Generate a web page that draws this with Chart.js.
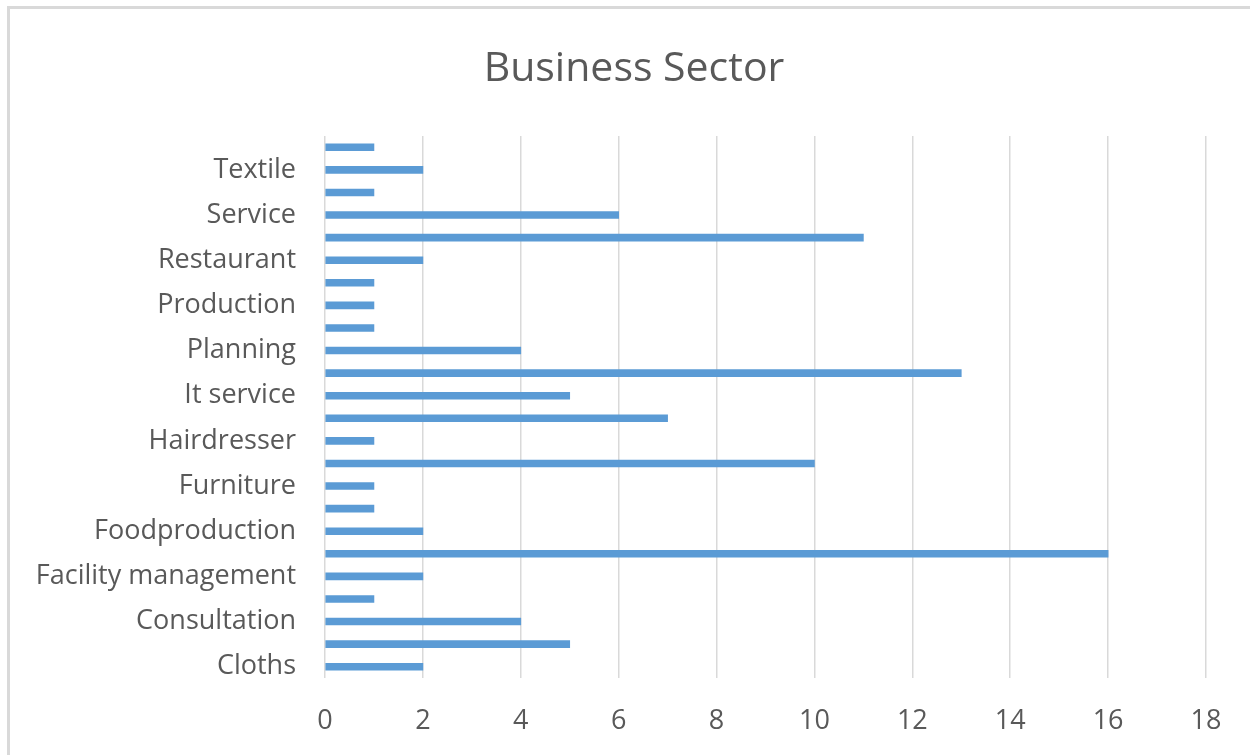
<!DOCTYPE html>
<html>
<head>
<meta charset="utf-8">
<script src="https://cdn.jsdelivr.net/npm/chart.js@4/dist/chart.umd.min.js"></script>
<style>
  html, body { margin: 0; padding: 0; background: #ffffff; overflow: hidden; }
  #frame { position: absolute; left: 7px; top: 6px; width: 1300px; height: 800px;
           border-top: 3px solid #d9d9d9; border-left: 3px solid #d9d9d9; }
  #wrap { position: absolute; left: 0; top: 0; width: 1250px; height: 755px; }
</style>
</head>
<body>
<div id="frame"></div>
<div id="wrap"><canvas id="c" width="1250" height="755"></canvas></div>
<script>
const chartTitle = "Business Sector";
const categories = [
  "Cloths", "Construction", "Consultation", "Education", "Facility management",
  "Food", "Foodproduction", "Forestry", "Furniture", "Graphic design",
  "Hairdresser", "Health care", "It service", "Marketing", "Planning",
  "Printing", "Production", "Real estate", "Restaurant", "Retail",
  "Service", "Software", "Textile", "Transport"
];
const counts = [2, 5, 4, 1, 2, 16, 2, 1, 1, 10, 1, 7, 5, 13, 4, 1, 1, 1, 2, 11, 6, 1, 2, 1];
const xMin = 0, xMax = 18, xStep = 2;

const textColor = "#595959";
const fontFamily = "'Open Sans', 'DejaVu Sans', sans-serif";

new Chart(document.getElementById("c"), {
  type: "bar",
  data: {
    labels: categories,
    datasets: [{
      label: "Count",
      data: counts,
      backgroundColor: "#5B9BD5",
      borderWidth: 0,
      barThickness: 7
    }]
  },
  options: {
    indexAxis: "y",
    responsive: false,
    animation: false,
    layout: { padding: { top: 45, right: 0, bottom: 0, left: 18 } },
    plugins: {
      legend: { display: false },
      tooltip: { enabled: false },
      title: {
        display: true,
        text: chartTitle,
        color: textColor,
        font: { family: fontFamily, size: 41, weight: "normal", lineHeight: 1.2 },
        padding: { top: 0, bottom: 41.8 }
      }
    },
    scales: {
      x: {
        min: xMin, max: xMax,
        ticks: { stepSize: xStep, color: textColor, padding: 27,
                 font: { family: fontFamily, size: 27 } },
        grid: { color: "#d9d9d9", lineWidth: 1.5, drawTicks: false },
        border: { display: false },
        afterFit: (s) => { s.height = 77; }
      },
      y: {
        reverse: true,
        ticks: {
          autoSkip: false,
          color: textColor,
          padding: 29,
          font: { family: fontFamily, size: 27 },
          callback: function(v, i) { return i % 2 === 0 ? this.getLabelForValue(v) : ""; }
        },
        grid: { display: false, drawTicks: false },
        border: { display: false },
        afterFit: (s) => { s.width = 325 - 18; }
      },
      yRightSpace: {
        type: "linear",
        position: "right",
        display: true,
        ticks: { display: false },
        grid: { display: false, drawTicks: false },
        border: { display: false },
        afterFit: (s) => { s.width = 44; }
      }
    }
  }
});
</script>
</body>
</html>
